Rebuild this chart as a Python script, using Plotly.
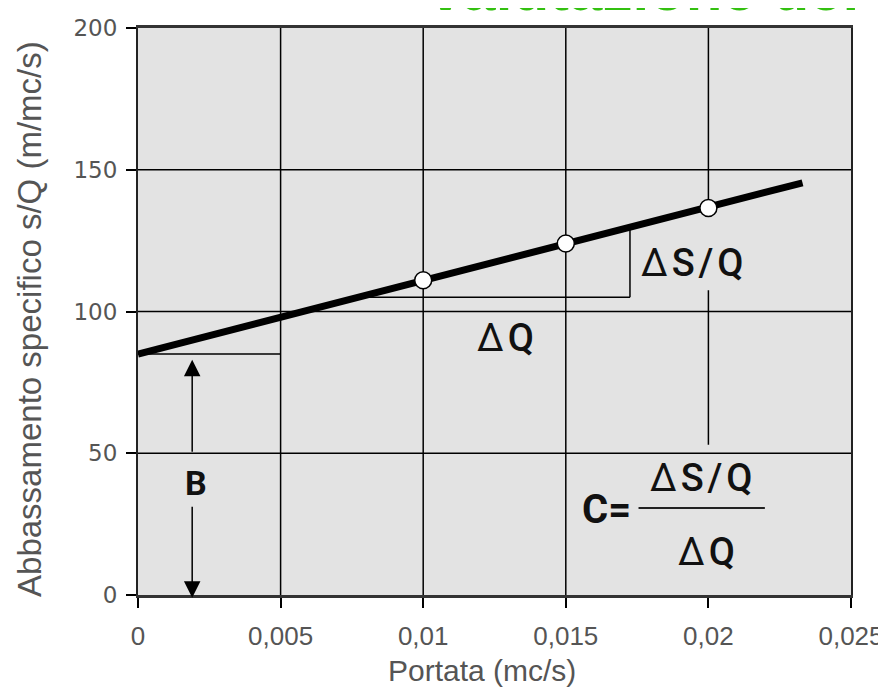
import plotly.graph_objects as go

# ---- data ----
x_ticks = [0, 0.005, 0.01, 0.015, 0.02, 0.025]
x_tick_labels = ["0", "0,005", "0,01", "0,015", "0,02", "0,025"]
y_ticks = [0, 50, 100, 150, 200]
y_tick_labels = ["0", "50", "100", "150", "200"]

line_q = [0, 0.0233]          # Portata (mc/s)
line_sq = [85, 145.4]         # s/Q (m/mc/s)

point_q = [0.01, 0.015, 0.02]
point_sq = [111, 124, 136.5]

B_value = 85                   # intercept
dsq_bracket_x = 0.01725
dsq_bracket_y = 105
dsq_bracket_top = 129.7

fig = go.Figure()

fig.add_trace(go.Scatter(x=line_q, y=line_sq, mode="lines",
                         line=dict(color="black", width=7), hoverinfo="skip",
                         showlegend=False))
fig.add_trace(go.Scatter(x=point_q, y=point_sq, mode="markers",
                         marker=dict(size=17, color="white",
                                     line=dict(color="black", width=1.5)),
                         showlegend=False))

shapes = []
grid = dict(color="black", width=1.5)
for xv in x_ticks[1:-1]:
    if xv == 0.02:
        shapes.append(dict(type="line", xref="x", yref="y", x0=xv, x1=xv, y0=point_sq[2], y1=200, line=grid, layer="below"))
        shapes.append(dict(type="line", xref="x", yref="y", x0=xv, x1=xv, y0=53, y1=107.5, line=grid, layer="below"))
    else:
        shapes.append(dict(type="line", xref="x", yref="y", x0=xv, x1=xv, y0=0, y1=200, line=grid, layer="below"))
for yv in y_ticks[1:-1]:
    shapes.append(dict(type="line", xref="x", yref="y", x0=0, x1=0.025, y0=yv, y1=yv, line=grid, layer="below"))

thin = dict(color="black", width=1.5)
shapes.append(dict(type="line", xref="x", yref="y", x0=0, x1=0.005, y0=B_value, y1=B_value, line=thin, layer="below"))
shapes.append(dict(type="line", xref="x", yref="y", x0=0.0075, x1=dsq_bracket_x, y0=dsq_bracket_y, y1=dsq_bracket_y, line=thin, layer="below"))
shapes.append(dict(type="line", xref="x", yref="y", x0=dsq_bracket_x, x1=dsq_bracket_x, y0=dsq_bracket_y, y1=dsq_bracket_top, line=thin, layer="below"))
shapes.append(dict(type="line", xref="x", yref="y", x0=0.01755, x1=0.02198, y0=30.7, y1=30.7, line=dict(color="#222", width=2), layer="above"))

sym_font = dict(family="Roboto", size=38, color="#111", weight=500)
H = "\u200a"
dsq_text = "<span style='font-weight:400'>\u0394</span>" + H + "S" + H + "/" + H + "Q"
dq_text = "<span style='font-weight:400'>\u0394</span>" + H + "Q"
ann = []
ann.append(dict(x=0.01942, y=117.1, xref="x", yref="y", text=dsq_text, showarrow=False, font=sym_font))
ann.append(dict(x=0.01287, y=90.7, xref="x", yref="y", text=dq_text, showarrow=False, font=sym_font))
ann.append(dict(x=0.01975, y=41.3, xref="x", yref="y", text=dsq_text, showarrow=False, font=sym_font))
ann.append(dict(x=0.01995, y=15.2, xref="x", yref="y", text=dq_text, showarrow=False, font=sym_font))
ann.append(dict(x=0.01641, y=30, xref="x", yref="y", text="<b>C=</b>", showarrow=False,
                font=dict(family="Roboto", size=40, color="#111")))
ann.append(dict(x=0.00203, y=39.5, xref="x", yref="y", text="<b>B</b>", showarrow=False,
                font=dict(family="Roboto", size=34, color="#111")))
ann.append(dict(x=0.0019, y=83, ax=0.0019, ay=50, xref="x", yref="y", axref="x", ayref="y", text="",
                showarrow=True, arrowhead=2, arrowsize=2.2, arrowwidth=1.5, arrowcolor="black"))
ann.append(dict(x=0.0019, y=-1, ax=0.0019, ay=31.7, xref="x", yref="y", axref="x", ayref="y", text="",
                showarrow=True, arrowhead=2, arrowsize=2.2, arrowwidth=1.5, arrowcolor="black"))
ann.append(dict(x=-0.1515, y=0.4868, xref="paper", yref="paper", text="Abbassamento specifico s/Q (m/mc/s)",
                textangle=-90, showarrow=False, xanchor="center", yanchor="middle",
                font=dict(family="Liberation Sans", size=33, color="#555")))
ann.append(dict(x=0.4825, y=-0.134, xref="paper", yref="paper", text="Portata (mc/s)",
                showarrow=False, xanchor="center", yanchor="middle",
                font=dict(family="Liberation Sans", size=30, color="#555")))
ann.append(dict(x=0.405, y=1.0053, xref="paper", yref="paper", text="<b>valutazione dei</b>",
                showarrow=False, xanchor="left", yanchor="bottom",
                font=dict(family="Liberation Sans", size=60, color="#33c010")))

fig.update_layout(
    width=886, height=691,
    margin=dict(l=130, r=43, t=20, b=104, autoexpand=False),
    paper_bgcolor="white",
    plot_bgcolor="#e3e3e3",
    shapes=shapes,
    annotations=ann,
    showlegend=False,
    xaxis=dict(range=[0, 0.025], tickvals=x_ticks, ticktext=x_tick_labels, automargin=False,
               showgrid=False, zeroline=False, showline=True, linecolor="#333", linewidth=2.5,
               mirror=True, ticks="outside", ticklen=10, tickwidth=1.5, tickcolor="black",
               tickfont=dict(family="Liberation Sans", size=26, color="#555"),
               ticklabelstandoff=6, ticklabeloverflow="allow"),
    yaxis=dict(range=[0, 200], tickvals=y_ticks, ticktext=y_tick_labels, automargin=False,
               showgrid=False, zeroline=False, showline=True, linecolor="#222", linewidth=2,
               mirror=True, ticks="outside", ticklen=10, tickwidth=1.5, tickcolor="black",
               tickfont=dict(family="DejaVu Sans", size=23, color="#555"),
               ticklabelstandoff=4),
)

fig.write_html("out.html")
